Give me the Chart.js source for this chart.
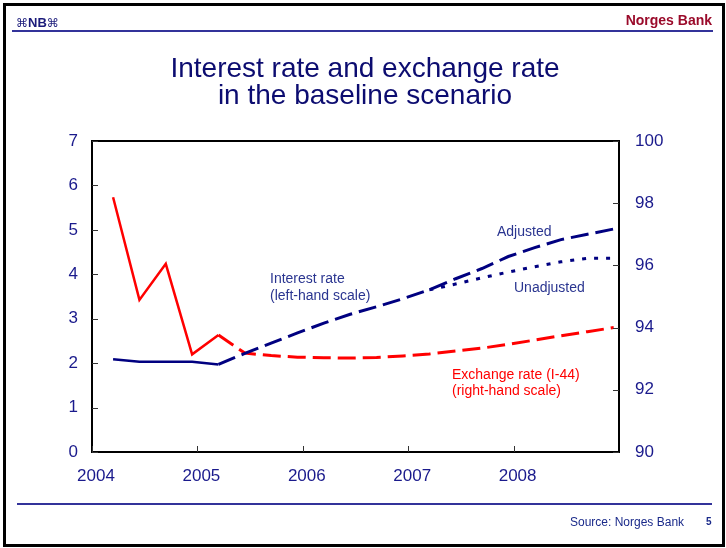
<!DOCTYPE html>
<html>
<head>
<meta charset="utf-8">
<script src="https://cdn.jsdelivr.net/npm/chart.js@4.4.0/dist/chart.umd.min.js"></script>
<style>
  html, body { margin: 0; padding: 0; background: #fff; }
  body { width: 726px; height: 548px; position: relative; overflow: hidden;
         font-family: "Liberation Sans", Arial, sans-serif; }
  #chart { position: absolute; left: 0; top: 0; }
  #frame { position: absolute; left: 3px; top: 3px; width: 716px; height: 538px; border: 3px solid #000; }
  .rule { position: absolute; height: 2px; background: #33339a; }
  .txt { position: absolute; white-space: nowrap; line-height: 1; }
  .title { left: 0; width: 730px; text-align: center; font-size: 28px; color: #0c0c70; }
  .blue { font-size: 14px; color: #2a3590; }
  .red { font-size: 14px; color: #ff0000; }
  .orn { font-family: "DejaVu Sans"; font-size: 12px; font-weight: normal; }
</style>
</head>
<body>
<canvas id="chart" width="726" height="548"></canvas>
<div id="frame"></div>
<div class="rule" style="left:12px; top:30px; width:701px;"></div>
<div class="rule" style="left:17px; top:503px; width:695px;"></div>

<div class="txt" style="left:16px; top:16px; font-size:13px; font-weight:bold; color:#1a1a7a;"><span class="orn">⌘</span>NB<span class="orn">⌘</span></div>
<div class="txt" style="right:14px; top:13px; font-size:14px; font-weight:bold; color:#9a0a2a;">Norges Bank</div>

<div class="txt title" style="top:54px;">Interest rate and exchange rate</div>
<div class="txt title" style="top:81px;">in the baseline scenario</div>

<div class="txt blue" style="left:270px; top:271px;">Interest rate</div>
<div class="txt blue" style="left:270px; top:287.5px;">(left-hand scale)</div>
<div class="txt blue" style="left:497px; top:224px;">Adjusted</div>
<div class="txt blue" style="left:514px; top:280px;">Unadjusted</div>
<div class="txt red" style="left:452px; top:367px;">Exchange rate (I-44)</div>
<div class="txt red" style="left:452px; top:383px;">(right-hand scale)</div>

<div class="txt" style="left:570px; top:515.5px; font-size:12px; color:#1a2a8a;">Source: Norges Bank</div>
<div class="txt" style="left:706px; top:517px; font-size:10px; font-weight:bold; color:#1a2a8a;">5</div>

<script>
// quarterly observations (x = position in years)
const histQuarters = [2004.2, 2004.45, 2004.7, 2004.95, 2005.2];
const interestHist = [2.09, 2.03, 2.03, 2.03, 1.97];
const fxHist = [98.19, 94.89, 96.05, 93.14, 93.76];

// baseline projections
const fcQuarters = [2005.2, 2005.45, 2005.7, 2005.95, 2006.2, 2006.45, 2006.7, 2006.95,
                    2007.2, 2007.45, 2007.7, 2007.95, 2008.2, 2008.45, 2008.7, 2008.95];
const interestAdjusted = [1.97, 2.22, 2.45, 2.68, 2.9, 3.1, 3.27, 3.45,
                          3.65, 3.9, 4.13, 4.4, 4.6, 4.78, 4.9, 5.02];
const fxForecast = [93.76, 93.18, 93.1, 93.05, 93.03, 93.02, 93.04, 93.09,
                    93.15, 93.25, 93.34, 93.46, 93.6, 93.74, 93.87, 94.0];

const unadjQuarters = [2007.2, 2007.45, 2007.7, 2007.95, 2008.2, 2008.45, 2008.7, 2008.95];
const interestUnadjusted = [3.65, 3.78, 3.92, 4.05, 4.17, 4.28, 4.36, 4.36];

const yearTicks = [2004, 2005, 2006, 2007, 2008];

const navy = "#000080";
const red = "#ff0000";
const tickColor = "#1a1a8c";

function pts(xs, ys) {
  return xs.map((x, i) => ({ x: x, y: ys[i] }));
}

// plot box and inward tick marks
const boxPlugin = {
  id: "box",
  afterDraw(chart) {
    const ctx = chart.ctx;
    const a = chart.chartArea;
    const sx = chart.scales.x, yl = chart.scales.y, yr = chart.scales.y2;
    ctx.save();
    ctx.strokeStyle = "#000";
    ctx.lineWidth = 2;
    ctx.strokeRect(a.left, a.top, a.right - a.left, a.bottom - a.top);
    ctx.lineWidth = 1;
    ctx.strokeStyle = "#333";
    ctx.beginPath();
    yl.ticks.forEach(t => {
      const y = Math.round(yl.getPixelForValue(t.value)) + 0.5;
      ctx.moveTo(a.left, y); ctx.lineTo(a.left + 6, y);
    });
    yr.ticks.forEach(t => {
      const y = Math.round(yr.getPixelForValue(t.value)) + 0.5;
      ctx.moveTo(a.right, y); ctx.lineTo(a.right - 6, y);
    });
    sx.ticks.forEach(t => {
      const x = Math.round(sx.getPixelForValue(t.value)) + 0.5;
      ctx.moveTo(x, a.bottom); ctx.lineTo(x, a.bottom - 6);
    });
    ctx.stroke();
    ctx.restore();
  }
};

const tickFont = { family: "Liberation Sans", size: 17 };

new Chart(document.getElementById("chart"), {
  type: "line",
  data: {
    datasets: [
      { data: pts(histQuarters, interestHist), yAxisID: "y", borderColor: navy, borderWidth: 2.5 },
      { data: pts(fcQuarters, interestAdjusted), yAxisID: "y", borderColor: navy, borderWidth: 3, borderDash: [18, 7] },
      { data: pts(unadjQuarters, interestUnadjusted), yAxisID: "y", borderColor: navy, borderWidth: 3, borderDash: [4, 8] },
      { data: pts(histQuarters, fxHist), yAxisID: "y2", borderColor: red, borderWidth: 2.5 },
      { data: pts(fcQuarters, fxForecast), yAxisID: "y2", borderColor: red, borderWidth: 3, borderDash: [18, 7] }
    ]
  },
  options: {
    responsive: false,
    animation: false,
    events: [],
    layout: { padding: { left: 40, right: 47, top: 141, bottom: 56 } },
    elements: { point: { radius: 0 }, line: { tension: 0, fill: false } },
    plugins: { legend: { display: false }, tooltip: { enabled: false } },
    scales: {
      x: {
        type: "linear", min: 2004, max: 2009,
        afterBuildTicks: s => { s.ticks = yearTicks.map(v => ({ value: v })); },
        afterFit: s => { s.height = 40; },
        grid: { display: false, drawTicks: false },
        border: { display: false },
        ticks: { font: tickFont, color: tickColor, padding: 14, labelOffset: 4, callback: v => String(v) }
      },
      y: {
        position: "left", min: 0, max: 7,
        afterFit: s => { s.width = 52; },
        grid: { display: false, drawTicks: false },
        border: { display: false },
        ticks: { stepSize: 1, font: tickFont, color: tickColor, padding: 14 }
      },
      y2: {
        position: "right", min: 90, max: 100,
        afterFit: s => { s.width = 60; },
        grid: { display: false, drawTicks: false },
        border: { display: false },
        ticks: { stepSize: 2, font: tickFont, color: tickColor, padding: 16 }
      }
    }
  },
  plugins: [boxPlugin]
});
</script>
</body>
</html>
